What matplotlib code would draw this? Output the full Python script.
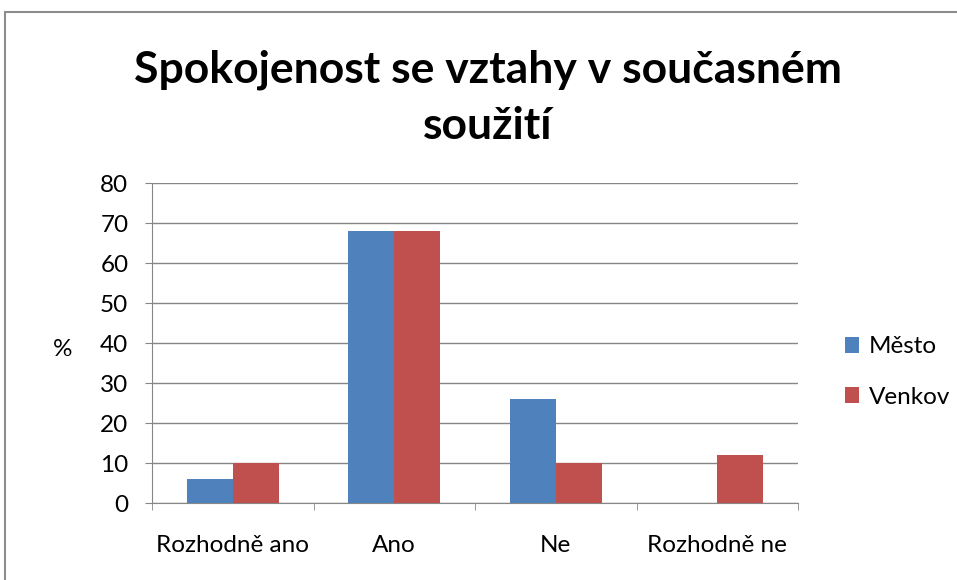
import numpy as np
import matplotlib.pyplot as plt
from matplotlib.patches import Rectangle

plt.rcParams['font.family'] = ['Lato', 'DejaVu Sans']

categories = ['Rozhodně ano', 'Ano', 'Ne', 'Rozhodně ne']
mesto = [6, 68, 26, 0]
venkov = [10, 68, 10, 12]
series_names = ['Město', 'Venkov']
yticks = [0, 10, 20, 30, 40, 50, 60, 70, 80]

blue = '#4F81BD'
red = '#C0504D'
grid_col = '#868686'
tick_fs = 17.5

fig = plt.figure(figsize=(9.57, 5.8), dpi=100)
ax = fig.add_axes([152/957, 1 - 503/580, (798 - 152)/957, (503 - 183)/580])

x = np.arange(len(categories))
w = 0.285
ax.bar(x - w/2, mesto, w, color=blue, label=series_names[0], zorder=3)
ax.bar(x + w/2, venkov, w, color=red, label=series_names[1], zorder=3)

ax.set_xlim(-0.5, len(categories) - 0.5)
ax.set_ylim(0, 80)
ax.set_yticks(yticks)
ax.yaxis.grid(True, color=grid_col, linewidth=1, zorder=0)
ax.set_axisbelow(True)

ax.set_xticks(x)
ax.set_xticklabels(categories, fontsize=tick_fs)
ax.set_xticks(np.arange(-0.5, len(categories)), minor=True)
ax.tick_params(axis='x', which='major', length=0, pad=23)
ax.tick_params(axis='x', which='minor', length=5, color=grid_col, direction='out')
ax.tick_params(axis='y', length=5, color=grid_col, direction='out', pad=12, labelsize=tick_fs)

for s in ['top', 'right']:
    ax.spines[s].set_visible(False)
for s in ['left', 'bottom']:
    ax.spines[s].set_color(grid_col)

fig.text(63/957, 1 - 350/580, '%', fontsize=tick_fs, ha='center', va='center')

fig.text(488/957, 1 - 70/580, 'Spokojenost se vztahy v současném', fontsize=32,
         fontweight='bold', ha='center', va='center')
fig.text(488/957, 1 - 126/580, 'soužití', fontsize=32,
         fontweight='bold', ha='center', va='center')

leg = ax.legend(loc='center left', bbox_to_anchor=(823/957, 1 - 372/580),
                bbox_transform=fig.transFigure, frameon=False, fontsize=tick_fs,
                handlelength=0.6, handleheight=0.6, handletextpad=0.4, labelspacing=1.2)

fig.patches.append(Rectangle((5/957, -0.1), 1.1, 1 - 12/580 + 0.1, transform=fig.transFigure,
                             fill=False, edgecolor='#8C8C8C', linewidth=1.5))

fig.savefig('out.png', dpi=100)
